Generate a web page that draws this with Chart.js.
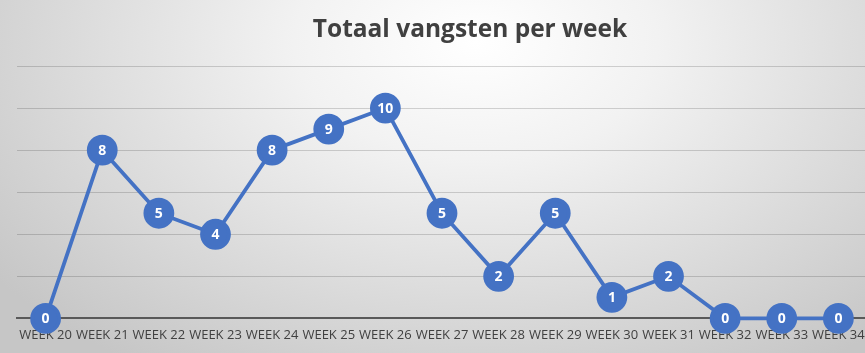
<!DOCTYPE html>
<html>
<head>
<meta charset="utf-8">
<script src="https://cdn.jsdelivr.net/npm/chart.js@4"></script>
<style>
  html, body { margin: 0; padding: 0; overflow: hidden; }
  body {
    width: 865px; height: 353px;
    background: radial-gradient(ellipse 70% 110% at 55% 12%, #ffffff 0%, #f2f2f2 30%, #dcdcdc 65%, #c6c6c6 100%);
  }
</style>
</head>
<body>
<!-- canvas a bit wider than the window so the plot runs off the right edge, like the original -->
<canvas id="vangstChart" width="884" height="353"></canvas>
<script>
// Totaal vangsten per week
const weeks = ["WEEK 20", "WEEK 21", "WEEK 22", "WEEK 23", "WEEK 24", "WEEK 25", "WEEK 26", "WEEK 27",
               "WEEK 28", "WEEK 29", "WEEK 30", "WEEK 31", "WEEK 32", "WEEK 33", "WEEK 34"];
const vangsten = [0, 8, 5, 4, 8, 9, 10, 5, 2, 5, 1, 2, 0, 0, 0];
const titleText = "Totaal vangsten per week";

const blue = "#4472C4";

// title drawn a bit right of centre, like the original
const titlePlugin = {
    id: "titleText",
    afterDraw(chart) {
        const ctx = chart.ctx;
        ctx.save();
        ctx.font = "bold 24.5px 'Open Sans'";
        ctx.fillStyle = "#404040";
        ctx.textAlign = "center";
        ctx.textBaseline = "middle";
        ctx.fillText(titleText, 470, 30);
        ctx.restore();
    }
};

// value inside each marker
const valueLabels = {
    id: "valueLabels",
    afterDatasetsDraw(chart) {
        const ctx = chart.ctx;
        ctx.save();
        ctx.font = "bold 14px 'Open Sans'";
        ctx.fillStyle = "#ffffff";
        ctx.textAlign = "center";
        ctx.textBaseline = "middle";
        chart.getDatasetMeta(0).data.forEach((pt, i) => {
            ctx.fillText(String(chart.data.datasets[0].data[i]), pt.x, pt.y + 1);
        });
        ctx.restore();
    }
};

new Chart(document.getElementById("vangstChart"), {
    type: "line",
    data: {
        labels: weeks,
        datasets: [{
            label: "Vangsten",
            data: vangsten,
            borderColor: blue,
            backgroundColor: blue,
            borderWidth: 3.8,
            pointRadius: 13.5,
            pointHoverRadius: 13.5,
            pointBackgroundColor: blue,
            pointBorderColor: blue,
            tension: 0,
            clip: false
        }]
    },
    options: {
        responsive: false,
        animation: false,
        layout: { padding: { top: 66, left: 17, right: 0, bottom: 0 } },
        plugins: {
            legend: { display: false },
            title: { display: false },
            tooltip: { enabled: false }
        },
        scales: {
            x: {
                offset: true,
                grid: { display: false, drawTicks: false },
                border: { color: "#595959", width: 2 },
                ticks: {
                    autoSkip: false,
                    maxRotation: 0,
                    padding: 9.5,
                    color: "#404040",
                    font: { family: "'Open Sans'", size: 13 }
                }
            },
            y: {
                min: 0,
                max: 12,
                ticks: { display: false, stepSize: 2 },
                border: { display: false },
                grid: { color: "rgba(0,0,0,0.16)", drawTicks: false }
            }
        }
    },
    plugins: [titlePlugin, valueLabels]
});
</script>
</body>
</html>
